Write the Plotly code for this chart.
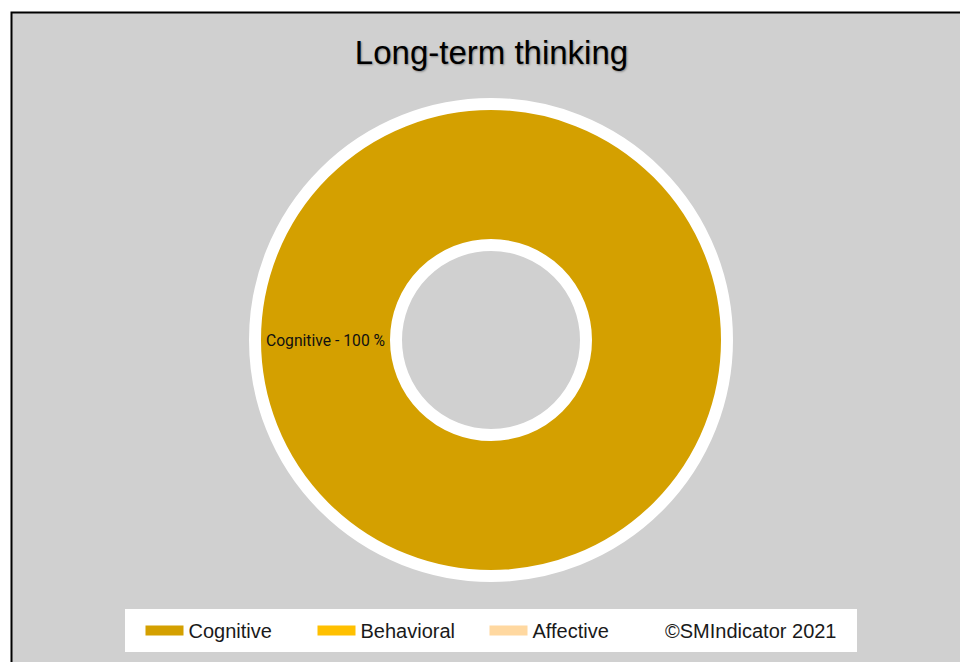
import plotly.graph_objects as go

# ---- data ----
title_text = "Long-term thinking"
categories = ["Cognitive", "Behavioral", "Affective"]
values = [100, 0, 0]
colors = ["#D4A000", "#FFC000", "#FFD8A0"]
credit = "©SMIndicator 2021"

W, H = 968, 662
CX, CY, R = 483, 332, 236   # pie centre / radius in px

fig = go.Figure()

shown = [i for i, v in enumerate(values) if v > 0]
fig.add_trace(go.Pie(
    labels=[categories[i] for i in shown],
    values=[values[i] for i in shown],
    marker=dict(colors=[colors[i] for i in shown], line=dict(color="white", width=12)),
    hole=95 / R,
    sort=False,
    direction="clockwise",
    rotation=90,
    texttemplate="%{label} - %{value} %",
    textposition="inside",
    insidetextorientation="horizontal",
    textfont=dict(family="Roboto", size=15.7, color="#111111"),
    domain=dict(x=[(CX - R) / W, (CX + R) / W], y=[(H - CY - R) / H, (H - CY + R) / H]),
    showlegend=False,
    hoverinfo="label+percent",
))

for name, col in zip(categories, colors):
    fig.add_trace(go.Scatter(x=[None], y=[None], mode="lines", name=name,
                             line=dict(color=col, width=15), hoverinfo="skip"))

fig.update_layout(
    width=W, height=H,
    margin=dict(l=0, r=0, t=0, b=0),
    paper_bgcolor="white",
    plot_bgcolor="rgba(0,0,0,0)",
    xaxis=dict(visible=False),
    yaxis=dict(visible=False),
    title=dict(text=title_text, x=483.5 / W, xanchor="center", xref="paper",
               y=1 - 44 / H, yanchor="middle", yref="container",
               font=dict(family="Liberation Sans, Arial", size=33, color="black",
                         shadow="1px 1px 2px rgba(0,0,0,0.35)")),
    legend=dict(orientation="h", x=132.5 / W, xanchor="left", y=1 - 622.5 / H, yanchor="middle",
                bgcolor="rgba(0,0,0,0)", itemwidth=38, entrywidth=119, entrywidthmode="pixels",
                font=dict(family="Liberation Sans, Arial", size=20, color="#1a1a1a")),
    shapes=[
        dict(type="rect", xref="paper", yref="paper", x0=3.5 / W, x1=1.02, y0=-0.02, y1=1 - 4.5 / H,
             fillcolor="#D0D0D0", line=dict(color="black", width=2), layer="below"),
        dict(type="rect", xref="paper", yref="paper", x0=117 / W, x1=849 / W, y0=1 - 644 / H, y1=1 - 601 / H,
             fillcolor="white", line=dict(width=0), layer="below"),
    ],
    annotations=[
        dict(text=credit, xref="paper", yref="paper", x=655 / W, xanchor="left",
             y=1 - 622.5 / H, yanchor="middle", showarrow=False,
             font=dict(family="Liberation Sans, Arial", size=20, color="#1a1a1a")),
    ],
)

fig.write_html("out.html")
